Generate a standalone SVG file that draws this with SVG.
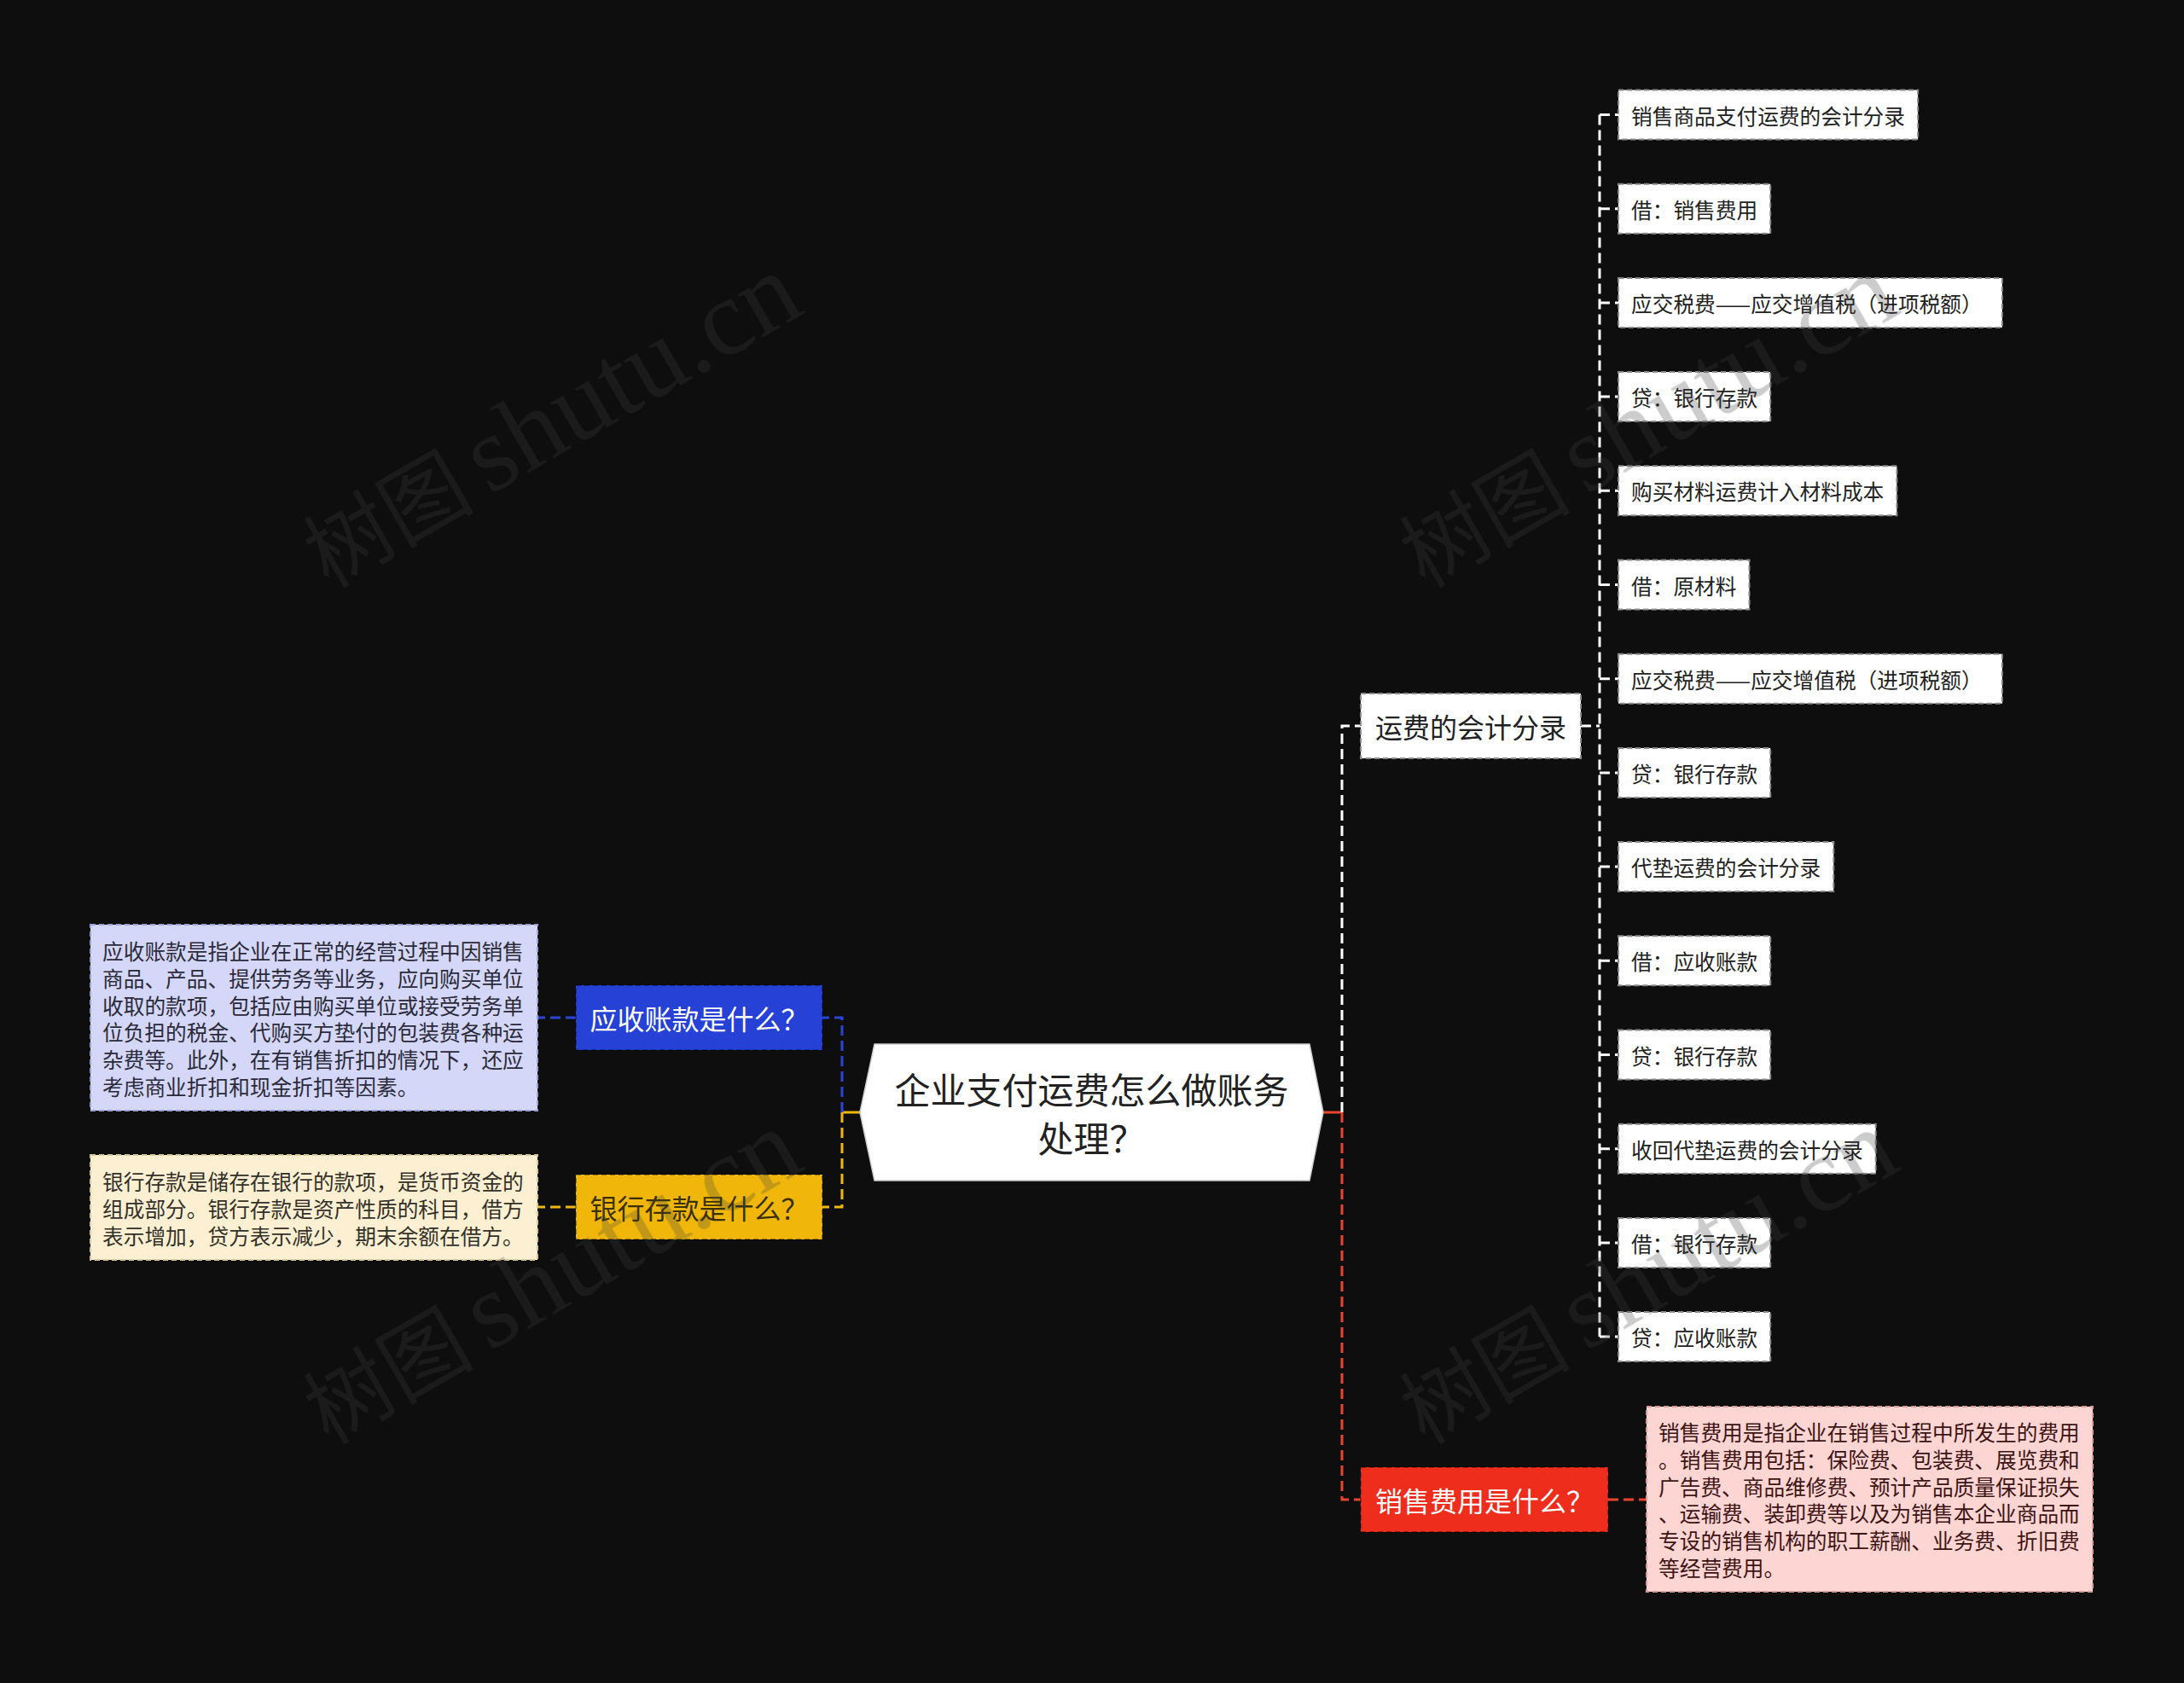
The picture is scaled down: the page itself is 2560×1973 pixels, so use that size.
<svg xmlns="http://www.w3.org/2000/svg" width="2560" height="1973" viewBox="0 0 2560 1973">
<style>
.t{font-family:"Noto Sans CJK SC","Noto Sans",sans-serif;dominant-baseline:central}
.leaf rect{fill:#ffffff;stroke:#8a8a8a;stroke-width:2;stroke-dasharray:6 4}
.leaf text{font-size:24.7px;fill:#222222}
.mid rect{fill:#ffffff;stroke:#8a8a8a;stroke-width:2;stroke-dasharray:6 4}
.mid text{font-size:32px;fill:#222222}
.q text{font-size:32px;fill:#ffffff}
.q rect{stroke:rgba(0,0,0,0.35);stroke-width:2;stroke-dasharray:6 4}
.desc text{font-size:24.7px}
.desc rect{stroke-width:2;stroke-dasharray:6 4}
.c{fill:none;stroke-width:3;stroke-dasharray:12 6}
.s{fill:none;stroke-width:3}
.w{stroke:#ffffff}
.bl{stroke:#2a44d8}
.ye{stroke:#f0b70a}
.re{stroke:#e8432e}
.wm{font-family:"Liberation Serif","Noto Sans CJK SC",serif;fill:#424242;opacity:0.27}
</style>
<rect x="0" y="0" width="2560" height="1973" fill="#0e0e0e"/>

<g id="connectors">
  <line class="s ye" x1="1008" y1="1304" x2="987" y2="1304"/>
  <path class="c bl" d="M987,1304 V1193 H964"/>
  <path class="c ye" d="M987,1304 V1415 H964"/>
  <path class="c bl" d="M675,1193 H630"/>
  <path class="c ye" d="M675,1415 H630"/>
  <line class="s re" x1="1551" y1="1304" x2="1573" y2="1304"/>
  <path class="c w" d="M1573,1304 V851 H1595"/>
  <path class="c re" d="M1573,1304 V1758 H1595"/>
  <path class="c re" d="M1885,1758 H1930"/>
  <path class="c w" d="M1853,851 H1875"/>
  <path class="c w" d="M1875,134.5 V1567.1"/>
  <path class="c w" d="M1875,134.5 H1897 M1875,244.7 H1897 M1875,354.9 H1897 M1875,465.1 H1897 M1875,575.3 H1897 M1875,685.5 H1897 M1875,795.7 H1897 M1875,905.9 H1897 M1875,1016.1 H1897 M1875,1126.3 H1897 M1875,1236.5 H1897 M1875,1346.7 H1897 M1875,1456.9 H1897 M1875,1567.1 H1897"/>
</g>

<g id="root">
  <polygon points="1008,1304 1025,1224 1535,1224 1551,1304 1535,1384 1025,1384" fill="#ffffff" stroke="#cccccc" stroke-width="1.5"/>
  <text class="t" x="1279.5" y="1275" text-anchor="middle" font-size="42" fill="#222222">企业支付运费怎么做账务</text>
  <text class="t" x="1279.5" y="1332" text-anchor="middle" font-size="42" fill="#222222">处理？</text>
</g>

<g id="q-receivable" class="q">
  <rect x="675" y="1155" width="289" height="76" fill="#2541d6"/>
  <text class="t" x="819.5" y="1193" text-anchor="middle">应收账款是什么？</text>
</g>
<g id="d-receivable" class="desc">
  <rect x="106" y="1084" width="524" height="218" fill="#d4d7f7" stroke="#9aa0d8"/>
  <text class="t" x="120" y="1114" fill="#2a2a3a">应收账款是指企业在正常的经营过程中因销售</text>
  <text class="t" x="120" y="1146" fill="#2a2a3a">商品、产品、提供劳务等业务，应向购买单位</text>
  <text class="t" x="120" y="1178" fill="#2a2a3a">收取的款项，包括应由购买单位或接受劳务单</text>
  <text class="t" x="120" y="1209" fill="#2a2a3a">位负担的税金、代购买方垫付的包装费各种运</text>
  <text class="t" x="120" y="1241" fill="#2a2a3a">杂费等。此外，在有销售折扣的情况下，还应</text>
  <text class="t" x="120" y="1273" fill="#2a2a3a">考虑商业折扣和现金折扣等因素。</text>
</g>

<g id="q-bank" class="q">
  <rect x="675" y="1377" width="289" height="76" fill="#f0b70a"/>
  <text class="t" x="819.5" y="1415" text-anchor="middle" style="fill:#3a3000">银行存款是什么？</text>
</g>
<g id="d-bank" class="desc">
  <rect x="106" y="1354" width="524" height="123" fill="#fdf0d2" stroke="#d8c898"/>
  <text class="t" x="120" y="1384" fill="#33302a">银行存款是储存在银行的款项，是货币资金的</text>
  <text class="t" x="120" y="1416" fill="#33302a">组成部分。银行存款是资产性质的科目，借方</text>
  <text class="t" x="120" y="1448" fill="#33302a">表示增加，贷方表示减少，期末余额在借方。</text>
</g>

<g id="n-freight" class="mid">
  <rect x="1595" y="813" width="258" height="76"/>
  <text class="t" x="1724" y="851" text-anchor="middle">运费的会计分录</text>
</g>

<g id="q-sales" class="q">
  <rect x="1595" y="1720" width="290" height="76" fill="#ee2d1c"/>
  <text class="t" x="1740" y="1758" text-anchor="middle">销售费用是什么？</text>
</g>
<g id="d-sales" class="desc">
  <rect x="1930" y="1649" width="523" height="217" fill="#fdd5d3" stroke="#d89a96"/>
  <text class="t" x="1944" y="1678" fill="#3d1414">销售费用是指企业在销售过程中所发生的费用</text>
  <text class="t" x="1944" y="1710" fill="#3d1414">。销售费用包括：保险费、包装费、展览费和</text>
  <text class="t" x="1944" y="1742" fill="#3d1414">广告费、商品维修费、预计产品质量保证损失</text>
  <text class="t" x="1944" y="1773" fill="#3d1414">、运输费、装卸费等以及为销售本企业商品而</text>
  <text class="t" x="1944" y="1805" fill="#3d1414">专设的销售机构的职工薪酬、业务费、折旧费</text>
  <text class="t" x="1944" y="1837" fill="#3d1414">等经营费用。</text>
</g>

<g id="leaf-0" class="leaf"><rect x="1897" y="105.5" width="351.1" height="58"/><text class="t" x="1912" y="134.5">销售商品支付运费的会计分录</text></g>
<g id="leaf-1" class="leaf"><rect x="1897" y="215.7" width="178.2" height="58"/><text class="t" x="1912" y="244.7">借：销售费用</text></g>
<g id="leaf-2" class="leaf"><rect x="1897" y="325.9" width="449.9" height="58"/><text class="t" x="1912" y="354.9">应交税费——应交增值税（进项税额）</text></g>
<g id="leaf-3" class="leaf"><rect x="1897" y="436.1" width="178.2" height="58"/><text class="t" x="1912" y="465.1">贷：银行存款</text></g>
<g id="leaf-4" class="leaf"><rect x="1897" y="546.3" width="326.4" height="58"/><text class="t" x="1912" y="575.3">购买材料运费计入材料成本</text></g>
<g id="leaf-5" class="leaf"><rect x="1897" y="656.5" width="153.5" height="58"/><text class="t" x="1912" y="685.5">借：原材料</text></g>
<g id="leaf-6" class="leaf"><rect x="1897" y="766.7" width="449.9" height="58"/><text class="t" x="1912" y="795.7">应交税费——应交增值税（进项税额）</text></g>
<g id="leaf-7" class="leaf"><rect x="1897" y="876.9" width="178.2" height="58"/><text class="t" x="1912" y="905.9">贷：银行存款</text></g>
<g id="leaf-8" class="leaf"><rect x="1897" y="987.1" width="252.3" height="58"/><text class="t" x="1912" y="1016.1">代垫运费的会计分录</text></g>
<g id="leaf-9" class="leaf"><rect x="1897" y="1097.3" width="178.2" height="58"/><text class="t" x="1912" y="1126.3">借：应收账款</text></g>
<g id="leaf-10" class="leaf"><rect x="1897" y="1207.5" width="178.2" height="58"/><text class="t" x="1912" y="1236.5">贷：银行存款</text></g>
<g id="leaf-11" class="leaf"><rect x="1897" y="1317.7" width="301.7" height="58"/><text class="t" x="1912" y="1346.7">收回代垫运费的会计分录</text></g>
<g id="leaf-12" class="leaf"><rect x="1897" y="1427.9" width="178.2" height="58"/><text class="t" x="1912" y="1456.9">借：银行存款</text></g>
<g id="leaf-13" class="leaf"><rect x="1897" y="1538.1" width="178.2" height="58"/><text class="t" x="1912" y="1567.1">贷：应收账款</text></g>

<g id="watermarks" class="wm">
  <text transform="translate(385,690) rotate(-30)"><tspan font-size="100" font-family="Noto Sans CJK SC, sans-serif">树图</tspan><tspan dx="18" font-size="128">shutu.cn</tspan></text>
  <text transform="translate(1670,690) rotate(-30)"><tspan font-size="100" font-family="Noto Sans CJK SC, sans-serif">树图</tspan><tspan dx="18" font-size="128">shutu.cn</tspan></text>
  <text transform="translate(385,1694) rotate(-30)"><tspan font-size="100" font-family="Noto Sans CJK SC, sans-serif">树图</tspan><tspan dx="18" font-size="128">shutu.cn</tspan></text>
  <text transform="translate(1670,1694) rotate(-30)"><tspan font-size="100" font-family="Noto Sans CJK SC, sans-serif">树图</tspan><tspan dx="18" font-size="128">shutu.cn</tspan></text>
</g>
</svg>
